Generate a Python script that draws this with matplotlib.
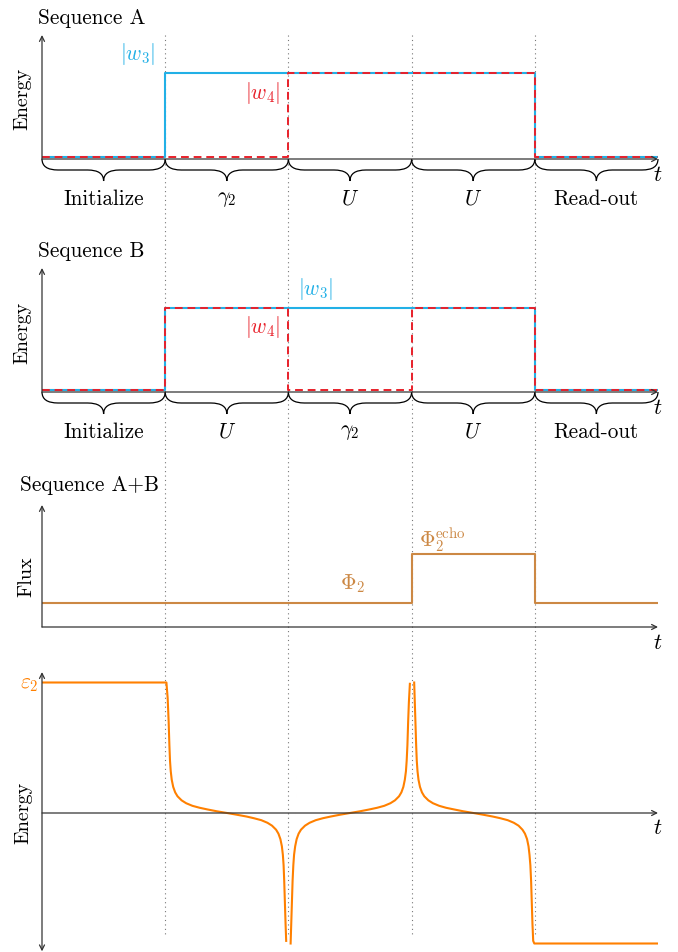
import numpy as np
import matplotlib
matplotlib.use("Agg")
import matplotlib.pyplot as plt
from matplotlib.path import Path
from matplotlib.patches import PathPatch

plt.rcParams['mathtext.fontset'] = 'cm'
plt.rcParams['font.family'] = ['cmr10', 'DejaVu Serif']
plt.rcParams['axes.unicode_minus'] = False

W, H = 678, 952

#---------------- datos
t_steps = [0, 1, 2, 3, 4, 5]
dividers = [1, 2, 3, 4]

# Sequence A
a_w3 = [0.02, 1, 1, 1, 0.02, 0.02]
a_w4 = [0.02, 0.02, 1, 1, 0.02, 0.02]
a_stages = ["Initialize", r"$\gamma_2$", r"$U$", r"$U$", "Read-out"]

# Sequence B
b_w3 = [0.02, 1, 1, 1, 0.02, 0.02]
b_w4 = [0.02, 1, 0.02, 1, 0.02, 0.02]
b_stages = ["Initialize", r"$U$", r"$\gamma_2$", r"$U$", "Read-out"]

# Sequence A+B, flux
flux = [1, 1, 1, 3, 1, 1]

# energia eps_2 (nan = corte entre ramas)
eps_t = [0.0, 1.01, 1.02, 1.028, 1.034, 1.039, 1.045, 1.053, 1.065, 1.081, 1.1,
         1.133, 1.17, 1.221, 1.28, 1.344, 1.42, 1.502, 1.58, 1.66, 1.72, 1.78,
         1.83, 1.867, 1.9, 1.919, 1.935, 1.947, 1.955, 1.961, 1.966, 1.972,
         1.977, 1.982, np.nan,
         2.018, 2.023, 2.028, 2.034, 2.04, 2.046, 2.055, 2.067, 2.083, 2.102,
         2.135, 2.172, 2.222, 2.28, 2.344, 2.42, 2.5, 2.58, 2.656, 2.72, 2.778,
         2.828, 2.865, 2.898, 2.917, 2.933, 2.945, 2.954, 2.96, 2.966, 2.972,
         2.978, 2.986, np.nan,
         3.021, 3.026, 3.031, 3.037, 3.042, 3.048, 3.056, 3.068, 3.084, 3.103,
         3.136, 3.173, 3.224, 3.28, 3.346, 3.42, 3.502, 3.58, 3.658, 3.72, 3.78,
         3.83, 3.868, 3.9, 3.92, 3.937, 3.949, 3.957, 3.964, 3.97, 3.976,
         3.981, 3.987, 3.996, 5.0]
eps_e = [1.0, 1.0, 0.88, 0.70, 0.52, 0.40, 0.32, 0.255, 0.2, 0.158, 0.128,
         0.097, 0.075, 0.055, 0.04, 0.027, 0.013, 0.0, -0.013, -0.027, -0.04, -0.055,
         -0.075, -0.097, -0.128, -0.158, -0.2, -0.255, -0.32, -0.40, -0.52, -0.70,
         -0.85, -0.98, np.nan,
         -1.0, -0.85, -0.70, -0.52, -0.40, -0.32, -0.255, -0.2, -0.158, -0.128,
         -0.097, -0.075, -0.055, -0.04, -0.027, -0.013, 0.0, 0.013, 0.027, 0.04, 0.055,
         0.075, 0.097, 0.128, 0.158, 0.2, 0.255, 0.32, 0.40, 0.52, 0.70,
         0.85, 0.99, np.nan,
         1.0, 0.85, 0.70, 0.52, 0.40, 0.32, 0.255, 0.2, 0.158, 0.128,
         0.097, 0.075, 0.055, 0.04, 0.027, 0.013, 0.0, -0.013, -0.027, -0.04, -0.055,
         -0.075, -0.097, -0.128, -0.158, -0.2, -0.255, -0.32, -0.40, -0.52, -0.70,
         -0.85, -0.98, -1.0, -1.0]

BLUE = '#22B0E6'
RED = '#E8202A'
BROWN = '#CC8844'
ORANGE = '#FF8000'
AXC = '#333333'
FS = 15.3     # texto horizontal
FSV = 14.5    # etiquetas rotadas

X0, XW = 42, 616   # px del eje t
fig = plt.figure(figsize=(W / 100, H / 100), dpi=100)

# lineas punteadas verticales (fondo)
bg = fig.add_axes([X0 / W, 0, XW / W, 1])
bg.set_xlim(0, 5)
bg.set_ylim(H, 0)
bg.axis('off')
bg.vlines(dividers, 35, 935, colors='#777777', linestyles=(0, (1, 3)), lw=0.8)


def panel(top, bot, ylim):
    ax = fig.add_axes([X0 / W, 1 - bot / H, XW / W, (bot - top) / H])
    ax.set_xlim(0, 5)
    ax.set_ylim(*ylim)
    ax.axis('off')
    ax.patch.set_alpha(0)
    return ax


def arrow(ax, p0, p1, style='->'):
    ax.annotate('', xy=p1, xytext=p0, annotation_clip=False,
                arrowprops=dict(arrowstyle=style, lw=0.9, color=AXC,
                                shrinkA=0, shrinkB=0, mutation_scale=9))


def brace(ax, x0, x1, sy):
    # llave tipo tikz debajo del eje
    a = 11.0 / sy
    c = 16.0 / 123.2
    xm = (x0 + x1) / 2
    verts = [(x0, 0), (x0, -a), (x0 + c, -a),
             (xm - c, -a), (xm, -a), (xm, -2 * a),
             (xm, -a), (xm + c, -a),
             (x1 - c, -a), (x1, -a), (x1, 0)]
    codes = [Path.MOVETO, Path.CURVE3, Path.CURVE3,
             Path.LINETO, Path.CURVE3, Path.CURVE3,
             Path.CURVE3, Path.CURVE3,
             Path.LINETO, Path.CURVE3, Path.CURVE3]
    ax.add_patch(PathPatch(Path(verts, codes), fc='none', ec='black', lw=0.9, clip_on=False))


def seq_panel(top, bot, sy, w3, w4, stages, title, w3_pos, w4_pos):
    ax = panel(top, bot, (-0.6, 1.5))
    arrow(ax, (0, 0), (5, 0))
    arrow(ax, (0, 0), (0, 124.0 / sy))
    ax.plot(t_steps, w3, drawstyle='steps-post', color=BLUE, lw=1.5)
    ax.plot(t_steps, w4, drawstyle='steps-post', color=RED, lw=1.4, ls=(0, (4, 2.5)))
    for i, s in enumerate(stages):
        brace(ax, t_steps[i], t_steps[i + 1], sy)
        ax.text(t_steps[i] + 0.5, -40.0 / sy, s, ha='center', va='center', fontsize=FS)
    ax.text(5, -16.0 / sy, r'$t$', ha='center', va='center', fontsize=FS + 1)
    ax.text(-0.162, 0.7, 'Energy', rotation=90, ha='center', va='center', fontsize=FSV)
    ax.text(-0.03, 141.0 / sy, title, ha='left', va='center', fontsize=FS)
    ax.text(w3_pos[0], w3_pos[1], r'$|w_3|$', color=BLUE, ha='center', va='center', fontsize=FS)
    ax.text(w4_pos[0], w4_pos[1], r'$|w_4|$', color=RED, ha='center', va='center', fontsize=FS)
    return ax


#---------------- Sequence A
seq_panel(159 - 1.5 * 86, 159 + 0.6 * 86, 86.0, a_w3, a_w4, a_stages,
          'Sequence A', (0.78, 1.22), (1.79, 0.77))

#---------------- Sequence B
seq_panel(392 - 1.5 * 84, 392 + 0.6 * 84, 84.0, b_w3, b_w4, b_stages,
          'Sequence B', (2.22, 1.23), (1.79, 0.77))

#---------------- Sequence A+B
ax3 = panel(627 - 5.2 * 24.5, 627 + 1.0 * 24.5, (-1.0, 5.2))
arrow(ax3, (0, 0), (5, 0))
arrow(ax3, (0, 0), (0, 4.98))
ax3.plot(t_steps, flux, drawstyle='steps-post', color=BROWN, lw=1.5)
ax3.text(5, -0.65, r'$t$', ha='center', va='center', fontsize=FS + 1)
ax3.text(-0.13, 2.04, 'Flux', rotation=90, ha='center', va='center', fontsize=FSV)
ax3.text(-0.18, 5.8, 'Sequence A+B', ha='left', va='center', fontsize=FS)
ax3.text(2.52, 1.76, r'$\Phi_2$', color=BROWN, ha='center', va='center', fontsize=FS)
ax3.text(3.25, 3.55, r'$\Phi_2^{\mathrm{echo}}$', color=BROWN, ha='center', va='center', fontsize=FS)

#---------------- energia eps_2
ax4 = panel(813 - 1.1 * 130.5, 813 + 1.07 * 130.5, (-1.07, 1.1))
arrow(ax4, (0, 0), (5, 0))
arrow(ax4, (0, -1.06), (0, 1.08), style='<->')
ax4.plot(eps_t, eps_e, color=ORANGE, lw=1.5)
ax4.text(5, -0.115, r'$t$', ha='center', va='center', fontsize=FS + 1)
ax4.text(-0.15, 0.0, 'Energy', rotation=90, ha='center', va='center', fontsize=FSV)
ax4.text(-0.1, 0.985, r'$\varepsilon_2$', color=ORANGE, ha='center', va='center', fontsize=FS)

fig.savefig('out.png', dpi=100)
